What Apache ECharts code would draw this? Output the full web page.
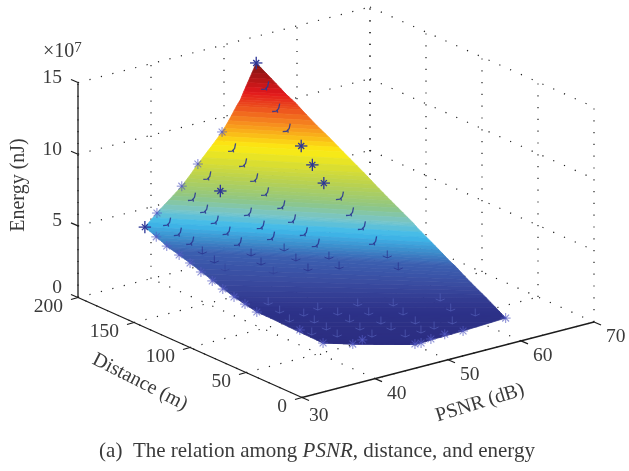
<!doctype html>
<html><head><meta charset="utf-8"><style>html,body{margin:0;padding:0;background:#fff}#c{width:629px;height:471px}</style>
<script src="https://cdn.jsdelivr.net/npm/echarts@6/dist/echarts.min.js"></script></head><body><div id="c"></div>
<script>
// axis ticks
const psnrTicks=[30,40,50,60,70];
const distTicks=[0,50,100,150,200];
const energyTicks=[0,5,10,15];
// energy in units of 1e7 nJ
// fully visible markers
const topPsnr=[54.0,54.3,54.6,54.9,46.2,38.9];
const topDist=[197.3,159.1,151.1,142.8,178.5,198.3];
const topEnergy=[13.30,8.80,7.72,6.70,6.05,3.80];
// markers on the hull edge
const edgePsnr=[48.6,45.7,43.4,40.2,39.8,40.7,41.4,41.5,41.5,41.5,41.3,41.2,41.2,41.1,41.9,41.8,44.2,45.7,49.6,50.3,51.8,53.8,55.9,61.7];
const edgeDist=[192.6,195.3,194.7,196.0,194.0,190.5,184.0,174.9,165.2,155.1,144.4,133.7,123.9,112.7,79.5,58.1,47.2,48.5,26.9,26.0,27.0,27.7,25.0,24.8];
const edgeEnergy=[9.36,7.41,6.19,4.69,3.15,2.51,2.02,1.77,1.48,1.21,1.04,0.88,0.72,0.57,0.37,0.22,0.21,0.26,0.21,0.22,0.27,0.32,0.36,0.50];
// markers partly under the surface
const midPsnr=[53.8,53.8,53.8,48.9,49.3,49.7,49.7,50.3,50.6,51.1,52.0,46.1,43.6,44.1,44.5,45.2,46.1,40.7,41.5,42.5,47.4,47.9,48.6,49.6,55.4,55.4,55.8,56.4,43.5,43.8,43.9,47.2,47.4,47.6,50.6,50.7,53.1,53.4,57.5,58.1,43.5,43.4,42.8,45.0,47.1,48.1,44.8,44.7,48.0,42.6,44.5,51.1,54.2,58.9,50.8,53.8,58.5,59.9,50.4,53.4,56.6,47.6,50.3,54.2,52.4,50.4,47.5];
const midDist=[187.1,177.3,167.9,184.7,177.5,170.2,160.5,149.9,142.3,135.0,130.2,188.6,186.0,178.4,171.5,165.5,161.2,189.3,184.9,180.4,160.8,152.6,148.0,143.7,130.8,121.8,113.8,107.7,177.0,168.2,159.3,157.6,150.0,140.4,139.7,129.6,126.5,119.4,103.1,97.2,118.2,107.3,94.7,96.2,97.4,86.1,85.5,74.1,74.8,73.4,63.1,87.8,76.3,65.0,76.0,64.9,53.0,40.2,62.5,51.4,39.2,63.0,52.8,39.8,39.8,40.8,51.6];
const midEnergy=[12.01,10.81,9.74,8.41,7.56,6.72,6.08,5.46,4.71,3.99,3.26,6.69,5.64,5.00,4.42,3.77,3.04,4.16,3.51,2.91,4.97,4.28,3.58,2.84,6.08,5.28,4.53,3.62,2.27,1.91,1.65,2.32,1.93,1.61,2.15,1.79,2.41,1.93,2.73,2.02,0.77,0.59,0.49,0.56,0.66,0.57,0.48,0.40,0.49,0.35,0.32,0.75,0.75,0.87,0.57,0.57,0.64,0.56,0.47,0.47,0.47,0.40,0.40,0.41,0.37,0.32,0.32];
// surface: iso-energy rows, each spanning a left and a right point
const rowEnergy=[13.30,12.48,11.66,11.20,10.84,10.02,9.36,8.58,7.41,6.75,6.19,5.70,4.92,4.69,3.80,3.08,2.44,2.17,1.77,1.23,0.88,0.57,0.50,0.36,0.26,0.22,0.21,0.21];
const rowLeftPsnr=[54.0,52.8,51.9,51.3,50.7,49.5,48.6,47.4,45.7,44.8,43.4,42.1,40.6,40.2,38.9,39.9,40.8,41.3,41.5,41.6,41.2,41.1,41.3,41.5,41.7,41.8,44.2,49.5];
const rowLeftDist=[197.3,195.3,194.8,193.9,193.5,192.6,192.6,193.4,195.3,196.2,194.7,194.2,195.6,196.0,198.3,193.3,190.2,188.6,174.9,156.0,133.7,112.7,102.1,79.2,63.4,58.1,47.2,26.4];
const rowRightPsnr=[54.0,54.5,55.1,55.5,55.7,56.2,56.8,57.4,58.4,58.9,59.1,59.3,59.9,60.0,60.8,61.6,62.4,62.8,62.8,63.1,62.9,62.2,61.7,55.9,51.6,50.2,49.8,49.5];
const rowRightDist=[197.3,186.5,177.9,172.0,167.6,157.3,150.1,141.6,129.6,122.9,113.4,105.0,95.8,93.2,84.7,80.5,78.1,77.0,68.9,61.2,49.7,33.1,24.8,25.0,25.9,26.2,26.3,26.4];
// colour scale of the surface
const scaleEnergy=[0.2,0.59,1.25,2.16,3.13,4.13,4.92,5.70,6.75,8.58,10.02,11.66,13.3];
const scaleColors=['#2b2d80','#2d3289','#3a4ba0','#3b5fb0','#3c8dcc','#3fbbec','#78c5c8','#8fc684','#bcd24c','#fdec12','#f6871f','#e2171c','#7b1611'];

const PX=[292,-75.5],DX=[-224,-100],OR=[302,397.5],ZY=14.33;
function project(p,d,e){const a=(p-30)/40,b=d/200;return [OR[0]+a*PX[0]+b*DX[0],OR[1]+a*PX[1]+b*DX[1]-e*ZY];}
function hex(c){return [1,3,5].map(i=>parseInt(c.substr(i,2),16));}
function colorOf(e){
  if(e<=scaleEnergy[0])return scaleColors[0];
  for(let i=1;i<scaleEnergy.length;i++)if(e<=scaleEnergy[i]){
    const t=(e-scaleEnergy[i-1])/(scaleEnergy[i]-scaleEnergy[i-1]),A=hex(scaleColors[i-1]),B=hex(scaleColors[i]);
    return 'rgb('+A.map((v,k)=>Math.round(v+(B[k]-v)*t)).join(',')+')';
  }
  return scaleColors[scaleColors.length-1];
}
// surface bands
const SUB=3;
function mix(a,b,t){return a+(b-a)*t;}
function rowPoint(r,t,side){return side==0?[mix(rowLeftPsnr[r],rowLeftPsnr[r+1],t),mix(rowLeftDist[r],rowLeftDist[r+1],t),mix(rowEnergy[r],rowEnergy[r+1],t)]:[mix(rowRightPsnr[r],rowRightPsnr[r+1],t),mix(rowRightDist[r],rowRightDist[r+1],t),mix(rowEnergy[r],rowEnergy[r+1],t)];}
function surfaceItem(params,api){
  const r=api.value(0),kids=[];
  for(let s=0;s<SUB;s++){
    const t0=s/SUB,t1=(s+1)/SUB;
    const pts=[rowPoint(r,t0,0),rowPoint(r,t0,1),rowPoint(r,t1,1),rowPoint(r,t1,0)].map(q=>api.coord(project(q[0],q[1],q[2])));
    const c=colorOf(mix(rowEnergy[r],rowEnergy[r+1],(t0+t1)/2));
    kids.push({type:'polygon',shape:{points:pts},style:{fill:c,stroke:c,lineWidth:0.7}});
  }
  return {type:'group',children:kids};
}
function segments(o,list,c,w){return list.map(s=>({type:'polyline',shape:{points:s.map(q=>[o[0]+q[0],o[1]+q[1]])},style:{stroke:c,lineWidth:w,fill:null}}));}
function star(R,Q){return [[[-R,0],[R,0]],[[0,-R],[0,R]],[[-Q,-Q],[Q,Q]],[[-Q,Q],[Q,-Q]]];}
const TOPSTAR=star(6.2,3), EDGESTAR=star(5,3.4);
const HOOK=[[[-5,2.5],[-1,2.2],[1.5,-0.5],[2.5,-5.5]],[[0,1],[0.5,3.5]]];
const ANCHOR=[[[0,-4.5],[0,3]],[[-4.5,1],[0,3],[4.5,1]]];
function markerItem(style){return function(params,api){
  const e=api.value(2),o=api.coord(project(api.value(0),api.value(1),e));
  if(style=='top')return {type:'group',children:segments(o,TOPSTAR,'#2c3596',1.3)};
  if(style=='edge')return {type:'group',children:segments(o,EDGESTAR,'rgba(85,90,195,0.65)',1.1)};
  if(e>2.9)return {type:'group',children:segments(o,HOOK,'rgba(44,58,146,0.9)',1.3)};
  if(e>1)return {type:'group',children:segments(o,ANCHOR,e>1.7?'rgba(40,50,140,0.75)':'rgba(45,55,145,0.4)',1)};
  return {type:'group',children:segments(o,ANCHOR,'rgba(95,110,200,0.5)',1)};
};}
// grid and axes
const dotted=[];
for(const p of psnrTicks){dotted.push([p,0,0,p,200,0]);dotted.push([p,200,0,p,200,15]);}
for(const d of distTicks){dotted.push([30,d,0,70,d,0]);dotted.push([70,d,0,70,d,15]);}
for(const z of energyTicks.slice(1)){dotted.push([30,200,z,70,200,z]);dotted.push([70,200,z,70,0,z]);}
const axes=[[30,200,0,30,200,15],[30,200,0,30,0,0],[30,0,0,70,0,0]];
function lineItem(dash){return function(params,api){
  const a=api.coord(project(api.value(0),api.value(1),api.value(2))),b=api.coord(project(api.value(3),api.value(4),api.value(5)));
  return {type:'line',shape:{x1:a[0],y1:a[1],x2:b[0],y2:b[1]},style:{stroke:dash?'#222':'#1c1c1c',lineWidth:dash?1.2:1.3,lineDash:dash?[1.2,10.6]:null}};
};}
const FONT='"Liberation Serif","Times New Roman",serif';
const TXT='#3a3a3a';
const tickItems=[];
for(const z of energyTicks)tickItems.push(['e',z]);
for(const d of distTicks)tickItems.push(['d',d]);
for(const p of psnrTicks)tickItems.push(['p',p]);
function tickItem(params,api){
  const it=tickItems[api.value(0)],k=it[0],v=it[1];
  let o,t,lab,al;
  if(k=='e'){o=project(30,200,v);t=[-7,-3];lab=[-16,v==0?-10:-4.5];al='right';}
  else if(k=='d'){o=project(30,v,0);t=[-7,2];lab=[-15,9.5];al='right';}
  else{o=project(v,0,0);t=[7,3];lab=v==30?[7,18]:[12,15];al='left';}
  o=api.coord(o);
  return {type:'group',children:[
    {type:'line',shape:{x1:o[0],y1:o[1],x2:o[0]+t[0],y2:o[1]+t[1]},style:{stroke:'#1c1c1c',lineWidth:1.2}},
    {type:'text',x:o[0]+lab[0],y:o[1]+lab[1],style:{text:String(v),fill:TXT,font:'19.5px '+FONT,textAlign:al,textVerticalAlign:'middle'}}
  ]};
}
const pixelAxis={type:'value',min:0,show:false};
const chart=echarts.init(document.getElementById('c'),null,{renderer:'canvas'});
const rowIdx=rowEnergy.slice(0,-1).map((_,i)=>[i]);
function zip3(a,b,c){return a.map((v,i)=>[v,b[i],c[i]]);}
function custom(render,data,z){return {type:'custom',coordinateSystem:'cartesian2d',renderItem:render,data:data,z:z,silent:true,animation:false,clip:false,encode:{x:[],y:[]}};}
chart.setOption({
  animation:false,
  grid:{left:0,right:0,top:0,bottom:0},
  xAxis:{...pixelAxis,max:629},
  yAxis:{...pixelAxis,max:471,inverse:true},
  graphic:[
    {type:'text',x:43,y:41,style:{text:'×10{s|7}',fill:TXT,font:'20px '+FONT,rich:{s:{fontSize:15,fontFamily:FONT,fill:TXT,verticalAlign:'top',padding:[0,0,6,0]}}}},
    {type:'text',x:18.5,y:185,rotation:Math.PI/2,style:{text:'Energy (nJ)',fill:TXT,font:'20px '+FONT,textAlign:'center',textVerticalAlign:'middle'}},
    {type:'text',x:140,y:382,rotation:-0.47,style:{text:'Distance (m)',fill:TXT,font:'20px '+FONT,textAlign:'center',textVerticalAlign:'middle'}},
    {type:'text',x:480,y:403,rotation:0.3,style:{text:'PSNR (dB)',fill:TXT,font:'20px '+FONT,textAlign:'center',textVerticalAlign:'middle'}},
    {type:'text',x:317,y:451,style:{text:'(a)  The relation among {i|PSNR}, distance, and energy',fill:TXT,font:'21px '+FONT,textAlign:'center',textVerticalAlign:'middle',rich:{i:{fontStyle:'italic',fontSize:21,fontFamily:FONT,fill:TXT}}}}
  ],
  series:[
    custom(lineItem(true),dotted,1),
    custom(lineItem(false),axes,2),
    custom(tickItem,tickItems.map((_,i)=>[i]),3),
    custom(surfaceItem,rowIdx,4),
    custom(markerItem('mid'),zip3(midPsnr,midDist,midEnergy),5),
    custom(markerItem('edge'),zip3(edgePsnr,edgeDist,edgeEnergy),6),
    custom(markerItem('top'),zip3(topPsnr,topDist,topEnergy),7)
  ]
});
</script></body></html>
